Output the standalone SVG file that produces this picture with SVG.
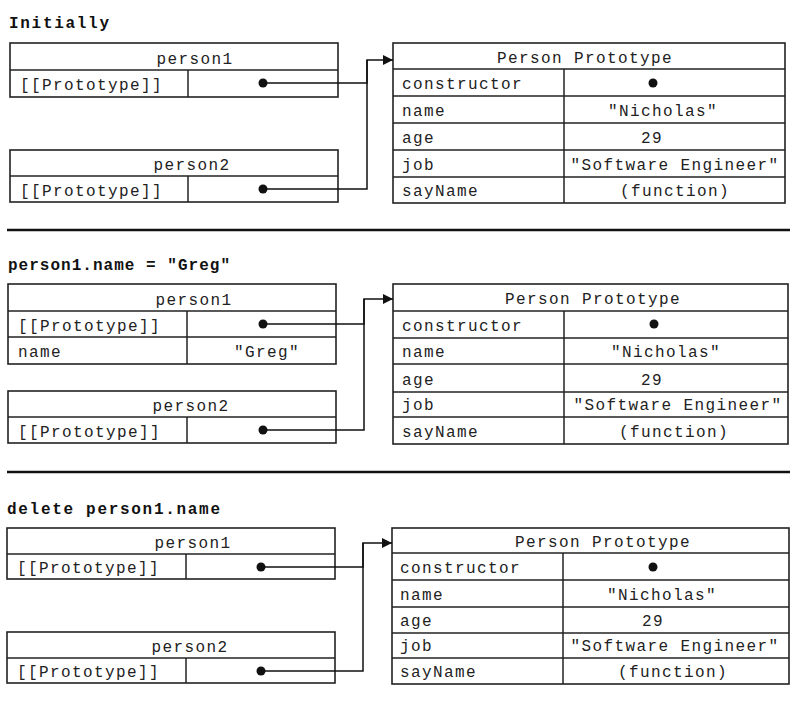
<svg xmlns="http://www.w3.org/2000/svg" width="807" height="703" viewBox="0 0 807 703">
<style>
.box{fill:#fff;stroke:#222;stroke-width:1.6}
.ln{stroke:#222;stroke-width:1.5}
.t{font-family:"Liberation Mono","DejaVu Sans Mono",monospace;font-size:16px;letter-spacing:1.4px;fill:#222}
.c{text-anchor:middle}
.h{font-family:"Liberation Mono","DejaVu Sans Mono",monospace;font-weight:bold;font-size:16px;fill:#111}
.dot{fill:#111}
.conn{fill:none;stroke:#111;stroke-width:1.5}
.sep{stroke:#111;stroke-width:2.5}
</style>
<defs>
<marker id="arr" markerWidth="10" markerHeight="10" refX="10" refY="5" orient="auto" markerUnits="userSpaceOnUse">
<path d="M0,0 L10,5 L0,10 z" fill="#111"/>
</marker>
</defs>
<rect width="807" height="703" fill="#fff"/>

<!-- Section 1 -->
<text class="h" x="9" y="28" textLength="100" lengthAdjust="spacing">Initially</text>
<g id="s1-person1">
<rect class="box" x="10" y="43" width="328" height="54"/>
<line class="ln" x1="10" y1="70" x2="338" y2="70"/>
<line class="ln" x1="188" y1="70" x2="188" y2="97"/>
<text class="t c" x="195" y="64">person1</text>
<text class="t" x="20" y="90">[[Prototype]]</text>
<circle class="dot" cx="263" cy="83" r="4.5"/>
</g>
<g id="s1-person2">
<rect class="box" x="10" y="150" width="328" height="52"/>
<line class="ln" x1="10" y1="176" x2="338" y2="176"/>
<line class="ln" x1="188" y1="176" x2="188" y2="202"/>
<text class="t c" x="192" y="170">person2</text>
<text class="t" x="20" y="196">[[Prototype]]</text>
<circle class="dot" cx="263" cy="189" r="4.5"/>
</g>
<g id="s1-proto">
<rect class="box" x="393" y="43" width="392" height="160"/>
<line class="ln" x1="393" y1="69" x2="785" y2="69"/>
<line class="ln" x1="393" y1="96" x2="785" y2="96"/>
<line class="ln" x1="393" y1="123" x2="785" y2="123"/>
<line class="ln" x1="393" y1="150" x2="785" y2="150"/>
<line class="ln" x1="393" y1="177" x2="785" y2="177"/>
<line class="ln" x1="564" y1="69" x2="564" y2="203"/>
<text class="t c" x="585" y="63">Person Prototype</text>
<text class="t" x="402" y="89">constructor</text>
<circle class="dot" cx="653" cy="83" r="4.5"/>
<text class="t" x="402" y="116">name</text>
<text class="t c" x="663" y="116">"Nicholas"</text>
<text class="t" x="402" y="143">age</text>
<text class="t c" x="652" y="143">29</text>
<text class="t" x="402" y="170">job</text>
<text class="t c" x="675" y="170">"Software Engineer"</text>
<text class="t" x="402" y="196">sayName</text>
<text class="t c" x="675" y="196">(function)</text>
</g>

<line class="sep" x1="7" y1="230" x2="790" y2="230"/>

<!-- Section 2 -->
<text class="h" x="8" y="270" textLength="222" lengthAdjust="spacing">person1.name = "Greg"</text>
<g id="s2-person1">
<rect class="box" x="8" y="284" width="328" height="80"/>
<line class="ln" x1="8" y1="311" x2="336" y2="311"/>
<line class="ln" x1="8" y1="337" x2="336" y2="337"/>
<line class="ln" x1="187" y1="311" x2="187" y2="364"/>
<text class="t c" x="194" y="305">person1</text>
<text class="t" x="18" y="331">[[Prototype]]</text>
<circle class="dot" cx="263" cy="324" r="4.5"/>
<text class="t" x="18" y="357">name</text>
<text class="t c" x="267" y="357">"Greg"</text>
</g>
<g id="s2-person2">
<rect class="box" x="8" y="391" width="328" height="52"/>
<line class="ln" x1="8" y1="417" x2="336" y2="417"/>
<line class="ln" x1="187" y1="417" x2="187" y2="443"/>
<text class="t c" x="191" y="411">person2</text>
<text class="t" x="18" y="437">[[Prototype]]</text>
<circle class="dot" cx="263" cy="430" r="4.5"/>
</g>
<g id="s2-proto">
<rect class="box" x="393" y="284" width="395" height="160"/>
<line class="ln" x1="393" y1="311" x2="788" y2="311"/>
<line class="ln" x1="393" y1="338" x2="788" y2="338"/>
<line class="ln" x1="393" y1="364" x2="788" y2="364"/>
<line class="ln" x1="393" y1="392" x2="788" y2="392"/>
<line class="ln" x1="393" y1="417" x2="788" y2="417"/>
<line class="ln" x1="564" y1="311" x2="564" y2="444"/>
<text class="t c" x="593" y="304">Person Prototype</text>
<text class="t" x="402" y="331">constructor</text>
<circle class="dot" cx="654" cy="324" r="4.5"/>
<text class="t" x="402" y="357">name</text>
<text class="t c" x="666" y="357">"Nicholas"</text>
<text class="t" x="402" y="385">age</text>
<text class="t c" x="652" y="385">29</text>
<text class="t" x="402" y="410">job</text>
<text class="t c" x="678" y="410">"Software Engineer"</text>
<text class="t" x="402" y="437">sayName</text>
<text class="t c" x="674" y="437">(function)</text>
</g>

<line class="sep" x1="7" y1="472" x2="790" y2="472"/>

<!-- Section 3 -->
<text class="h" x="7" y="514" textLength="213" lengthAdjust="spacing">delete person1.name</text>
<g id="s3-person1">
<rect class="box" x="7" y="528" width="328" height="51"/>
<line class="ln" x1="7" y1="554" x2="335" y2="554"/>
<line class="ln" x1="186" y1="554" x2="186" y2="579"/>
<text class="t c" x="193" y="548">person1</text>
<text class="t" x="17" y="573">[[Prototype]]</text>
<circle class="dot" cx="261" cy="567" r="4.5"/>
</g>
<g id="s3-person2">
<rect class="box" x="7" y="632" width="328" height="51"/>
<line class="ln" x1="7" y1="658" x2="335" y2="658"/>
<line class="ln" x1="186" y1="658" x2="186" y2="683"/>
<text class="t c" x="190" y="652">person2</text>
<text class="t" x="17" y="677">[[Prototype]]</text>
<circle class="dot" cx="261" cy="671" r="4.5"/>
</g>
<g id="s3-proto">
<rect class="box" x="392" y="528" width="397" height="156"/>
<line class="ln" x1="392" y1="553" x2="789" y2="553"/>
<line class="ln" x1="392" y1="580" x2="789" y2="580"/>
<line class="ln" x1="392" y1="607" x2="789" y2="607"/>
<line class="ln" x1="392" y1="633" x2="789" y2="633"/>
<line class="ln" x1="392" y1="658" x2="789" y2="658"/>
<line class="ln" x1="563" y1="553" x2="563" y2="684"/>
<text class="t c" x="603" y="547">Person Prototype</text>
<text class="t" x="400" y="573">constructor</text>
<circle class="dot" cx="653" cy="567" r="4.5"/>
<text class="t" x="400" y="600">name</text>
<text class="t c" x="662" y="600">"Nicholas"</text>
<text class="t" x="400" y="626">age</text>
<text class="t c" x="653" y="626">29</text>
<text class="t" x="400" y="651">job</text>
<text class="t c" x="675" y="651">"Software Engineer"</text>
<text class="t" x="400" y="677">sayName</text>
<text class="t c" x="673" y="677">(function)</text>
</g>

<g id="connectors">
<path class="conn" d="M263,83 H367 V60 H393" marker-end="url(#arr)"/>
<path class="conn" d="M263,189 H367 V60"/>
<path class="conn" d="M263,324 H364 V299 H393" marker-end="url(#arr)"/>
<path class="conn" d="M263,430 H364 V299"/>
<path class="conn" d="M261,567 H363 V543 H392" marker-end="url(#arr)"/>
<path class="conn" d="M261,671 H363 V543"/>
</g>
</svg>
